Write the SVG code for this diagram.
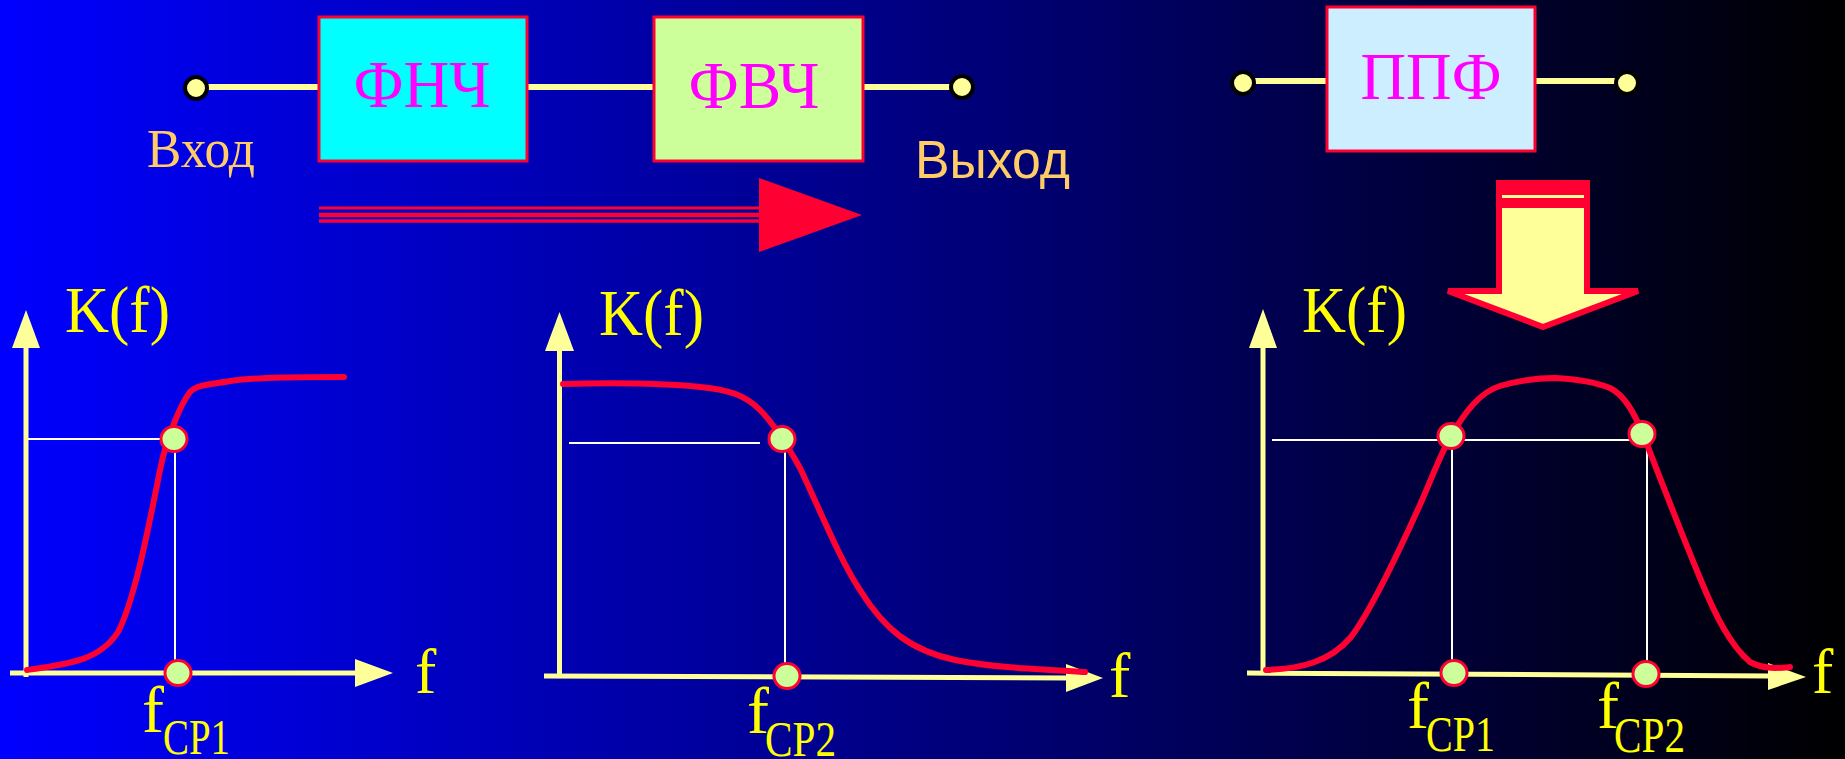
<svg xmlns="http://www.w3.org/2000/svg" width="1845" height="759" viewBox="0 0 1845 759">
<defs>
<linearGradient id="bg" x1="0" y1="0" x2="1" y2="0">
<stop offset="0" stop-color="#0000ff"/>
<stop offset="1" stop-color="#000000"/>
</linearGradient>
<style>
.box{stroke:#ff0033;stroke-width:3}
.term{fill:#ffff99;stroke:#000;stroke-width:4}
.wire{stroke:#ffff99;stroke-width:6;fill:none}
.ftxt{font-family:"Liberation Serif","Times New Roman",serif;font-size:68px;fill:#ff00ff;text-anchor:middle}
.io{fill:#ffcc66}
.serif{font-family:"Liberation Serif","Times New Roman",serif}
.sans{font-family:"Liberation Sans",Arial,sans-serif}
.axis{stroke:#ffff99;stroke-width:5;fill:none}
.head{fill:#ffff99}
.guide{stroke:#ffffff;stroke-width:2;fill:none}
.curve{stroke:#ff0033;stroke-width:6;fill:none;stroke-linecap:round;stroke-linejoin:round}
.pt{fill:#ccff99;stroke:#ff0033;stroke-width:3}
.lbl{font-family:"Liberation Serif","Times New Roman",serif;fill:#ffff00}
.red{fill:#ff0033}
.redline{stroke:#ff0033;fill:none}
</style>
</defs>
<rect x="0" y="0" width="1845" height="759" fill="url(#bg)"/>

<g id="connectors">
<line class="wire" x1="196" y1="87" x2="319" y2="87"/>
<line class="wire" x1="527" y1="87" x2="654" y2="87"/>
<line class="wire" x1="863" y1="87" x2="962" y2="87"/>
<line class="wire" x1="1243" y1="81" x2="1327" y2="81"/>
<line class="wire" x1="1535" y1="81" x2="1627" y2="81"/>
</g>

<g id="input">
<circle class="term" cx="196" cy="88" r="11"/>
<text class="serif io" x="147" y="167" font-size="55" textLength="108" lengthAdjust="spacingAndGlyphs">Вход</text>
</g>
<g id="lpf">
<rect class="box" x="319" y="17" width="208" height="144" fill="#00ffff"/>
<text class="ftxt" x="422" y="107" textLength="137" lengthAdjust="spacingAndGlyphs">ФНЧ</text>
</g>
<g id="hpf">
<rect class="box" x="654" y="17" width="209" height="144" fill="#ccff99"/>
<text class="ftxt" x="754" y="108" textLength="131" lengthAdjust="spacingAndGlyphs">ФВЧ</text>
</g>
<g id="output">
<circle class="term" cx="962" cy="87" r="11"/>
<text class="sans io" x="915" y="178" font-size="53" textLength="155" lengthAdjust="spacingAndGlyphs">Выход</text>
</g>

<g id="flow-arrow">
<line class="redline" x1="319" y1="208" x2="760" y2="208" stroke-width="3"/>
<line class="redline" x1="319" y1="215" x2="760" y2="215" stroke-width="4.5"/>
<line class="redline" x1="319" y1="221" x2="760" y2="221" stroke-width="3.5"/>
<polygon class="red" points="759,178 862,215 759,252"/>
</g>

<g id="bpf-in">
<circle class="term" cx="1243" cy="83" r="11"/>
</g>
<g id="bpf">
<rect class="box" x="1327" y="7" width="208" height="144" fill="#cceeff"/>
<text class="ftxt" x="1431" y="99" textLength="141" lengthAdjust="spacingAndGlyphs">ППФ</text>
</g>
<g id="bpf-out">
<circle class="term" cx="1627" cy="83" r="11"/>
</g>

<g id="down-arrow">
<polygon points="1499,183 1587,183 1587,291 1638,291 1543,327 1448,291 1499,291" fill="#ffff99" stroke="#ff0033" stroke-width="6" stroke-linejoin="miter"/>
<rect x="1496" y="180" width="94" height="28" fill="#ff0033"/>
<rect x="1502" y="195" width="82" height="3" fill="#ffff99"/>
</g>

<g id="graph-lpf">
<line class="guide" x1="26" y1="439" x2="162" y2="439"/>
<line class="guide" x1="175" y1="439" x2="175" y2="673"/>
<line class="axis" x1="26" y1="677" x2="26" y2="346"/>
<polygon class="head" points="26,310 40,348 12,348"/>
<line class="axis" x1="10" y1="673" x2="357" y2="673"/>
<polygon class="head" points="393,673 355,659 355,687"/>
<path class="curve" d="M27,670 C70,664 100,660 118,632 C135,600 150,520 160,470 C166,440 180,405 190,392 C197,384 215,384 230,381 C260,377 300,377 344,377"/>
<ellipse class="pt" cx="174" cy="439" rx="13" ry="12.5"/>
<ellipse class="pt" cx="178" cy="673" rx="13" ry="12.5"/>
<text class="lbl" x="65" y="332" font-size="66" textLength="105" lengthAdjust="spacingAndGlyphs">K(f)</text>
<text class="lbl" x="415" y="693" font-size="64">f</text>
<text class="lbl" x="142" y="732" font-size="66">f</text>
<text class="lbl" x="163" y="754" font-size="50" textLength="67" lengthAdjust="spacingAndGlyphs">СР1</text>
</g>

<g id="graph-hpf">
<line class="guide" x1="569" y1="443" x2="760" y2="443"/>
<line class="guide" x1="785" y1="448" x2="785" y2="676"/>
<line class="axis" x1="559.5" y1="678" x2="559.5" y2="349"/>
<polygon class="head" points="559.5,312 574,351 545,351"/>
<line class="axis" x1="544" y1="676" x2="1068" y2="678"/>
<polygon class="head" points="1103,678 1066,664 1066,692"/>
<path class="curve" d="M563,384 C600,383 660,383 700,387 C730,390 745,395 760,410 C775,425 790,450 800,468 C820,510 840,560 860,590 C885,630 910,650 955,660 C990,667 1030,669 1085,672"/>
<ellipse class="pt" cx="782" cy="439" rx="13" ry="12.5"/>
<ellipse class="pt" cx="787" cy="676" rx="13" ry="12.5"/>
<text class="lbl" x="599" y="335" font-size="66" textLength="105" lengthAdjust="spacingAndGlyphs">K(f)</text>
<text class="lbl" x="1109" y="697" font-size="64">f</text>
<text class="lbl" x="747" y="733" font-size="66">f</text>
<text class="lbl" x="765" y="756" font-size="50" textLength="71" lengthAdjust="spacingAndGlyphs">СР2</text>
</g>

<g id="graph-bpf">
<line class="guide" x1="1272" y1="440" x2="1631" y2="440"/>
<line class="guide" x1="1452" y1="440" x2="1452" y2="673"/>
<line class="guide" x1="1647" y1="440" x2="1647" y2="676"/>
<line class="axis" x1="1263" y1="675" x2="1263" y2="346"/>
<polygon class="head" points="1263,309 1277,348 1249,348"/>
<line class="axis" x1="1247" y1="673" x2="1770" y2="676"/>
<polygon class="head" points="1806,677 1768,663 1768,690"/>
<path class="curve" d="M1266,670 C1300,669 1330,662 1351,637 C1370,612 1395,560 1419,507 C1432,478 1440,455 1451,436 C1465,412 1480,392 1500,386 C1520,380 1540,378 1555,378 C1575,379 1595,382 1610,388 C1625,395 1635,415 1643,434 C1660,478 1680,530 1700,578 C1715,615 1730,645 1750,662 C1765,670 1780,668 1790,667"/>
<ellipse class="pt" cx="1451" cy="436" rx="13" ry="12.5"/>
<ellipse class="pt" cx="1642" cy="434" rx="13" ry="12.5"/>
<ellipse class="pt" cx="1454" cy="673" rx="13" ry="12.5"/>
<ellipse class="pt" cx="1646" cy="674" rx="13" ry="12.5"/>
<text class="lbl" x="1302" y="332" font-size="66" textLength="105" lengthAdjust="spacingAndGlyphs">K(f)</text>
<text class="lbl" x="1812" y="693" font-size="64">f</text>
<text class="lbl" x="1407" y="728" font-size="66">f</text>
<text class="lbl" x="1426" y="751" font-size="50" textLength="69" lengthAdjust="spacingAndGlyphs">СР1</text>
<text class="lbl" x="1597" y="728" font-size="66">f</text>
<text class="lbl" x="1614" y="752" font-size="50" textLength="71" lengthAdjust="spacingAndGlyphs">СР2</text>
</g>
</svg>
